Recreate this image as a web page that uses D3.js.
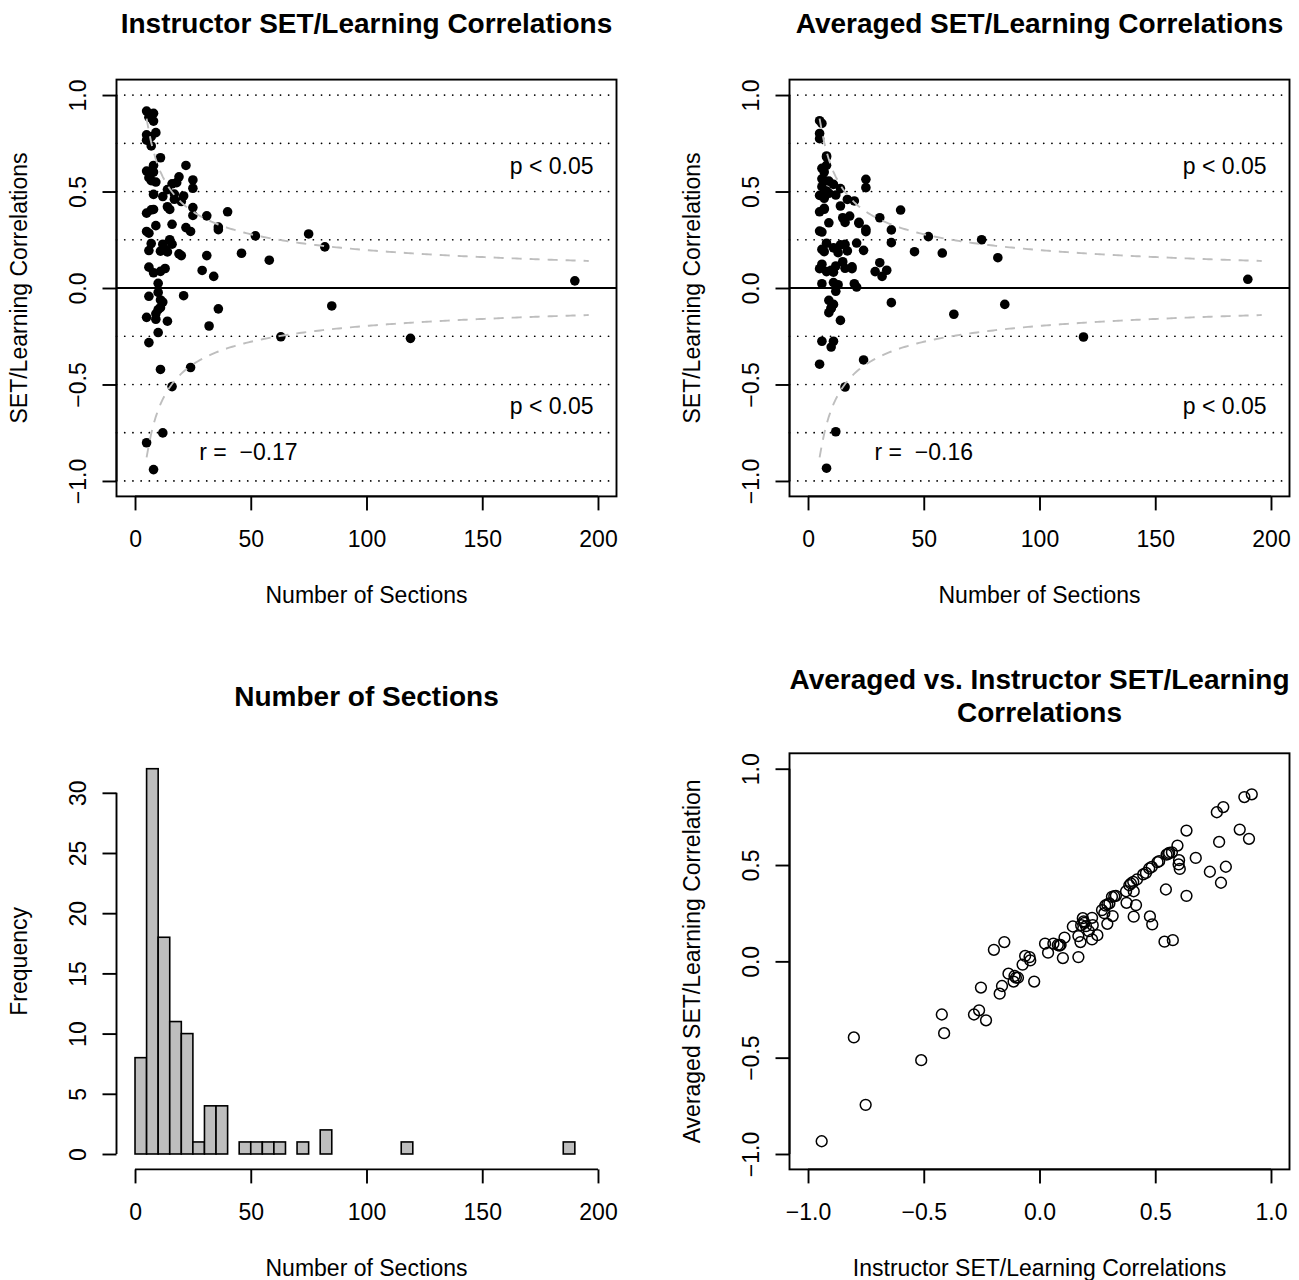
<!DOCTYPE html>
<html><head><meta charset="utf-8">
<script src="https://cdn.jsdelivr.net/npm/d3@7"></script>
<style>
html,body{margin:0;padding:0;background:#fff;}
svg{display:block;font-family:"Liberation Sans",Arial,Helvetica,sans-serif;}
</style></head><body>
<svg id="chart" width="1299" height="1280"></svg>
<script>
// ---- data ----
const nSections = [5,8,6,8,9,5,7,6,5,7,11,8,22,5,6,8,7,19,6,25,7,9,18,16,25,14,17,8,21,12,17,20,14,25,15,8,7,40,5,25,31,16,9,36,22,36,24,5,6,75,52,15,7,16,12,82,13,6,11,14,46,19,20,31,58,6,13,29,11,8,34,190,10,10,21,6,11,12,85,11,36,10,9,5,9,14,32,10,63,119,6,24,11,16,12,5,8];
const instructorR = [0.917,0.905,0.885,0.865,0.805,0.794,0.784,0.776,0.766,0.736,0.675,0.635,0.635,0.606,0.603,0.601,0.596,0.576,0.572,0.560,0.556,0.549,0.546,0.540,0.517,0.510,0.487,0.485,0.477,0.474,0.460,0.448,0.421,0.417,0.407,0.407,0.405,0.395,0.388,0.376,0.374,0.330,0.323,0.316,0.313,0.302,0.293,0.293,0.284,0.280,0.270,0.250,0.230,0.227,0.227,0.213,0.201,0.194,0.191,0.187,0.180,0.177,0.168,0.168,0.144,0.108,0.101,0.091,0.086,0.079,0.060,0.037,0.024,-0.023,-0.040,-0.043,-0.062,-0.073,-0.093,-0.102,-0.108,-0.112,-0.134,-0.152,-0.162,-0.172,-0.197,-0.231,-0.253,-0.261,-0.283,-0.412,-0.422,-0.511,-0.751,-0.802,-0.941];
const averagedR = [0.867,0.636,0.853,0.684,0.491,0.801,0.408,0.620,0.774,0.465,0.537,0.679,0.340,0.480,0.525,0.503,0.601,0.110,0.566,0.563,0.558,0.554,0.373,0.102,0.520,0.515,0.192,0.490,0.233,0.482,0.459,0.451,0.425,0.292,0.364,0.232,0.413,0.404,0.395,0.304,0.364,0.340,0.338,0.235,0.335,0.301,0.195,0.295,0.290,0.250,0.266,0.136,0.188,0.226,0.114,0.157,0.183,0.200,0.208,0.224,0.188,0.100,0.022,0.131,0.181,0.123,0.017,0.085,0.082,0.085,0.092,0.045,0.092,-0.105,0.005,0.022,0.028,-0.017,-0.085,-0.085,-0.076,-0.105,-0.064,0.100,-0.128,-0.168,0.060,-0.306,-0.136,-0.254,-0.276,-0.373,-0.276,-0.513,-0.745,-0.395,-0.934];
const sectionTicks = [0,50,100,150,200];
const corrTicks = [-1,-0.5,0,0.5,1];
const freqTicks = [0,5,10,15,20,25,30];
const refLines = [-1,-0.75,-0.5,-0.25,0.25,0.5,0.75,1];
const binEdges = [0,5,10,15,20,25,30,35,40,45,50,55,60,65,70,75,80,85,90,95,100,105,110,115,120,125,130,135,140,145,150,155,160,165,170,175,180,185,190,195,200];
const titles = ["Instructor SET/Learning Correlations","Averaged SET/Learning Correlations","Number of Sections",["Averaged vs. Instructor SET/Learning","Correlations"]];
const rLabels = ["r =  \u22120.17","r =  \u22120.16"];
const pLabel = "p < 0.05";

// ---- layout ----
const FS = 23, FT = 28;
const colL = [116.5,616.5], colR = [789.5,1289.5];
const rowT = [79.6,496.4], rowB = [753.3,1169.4];
const svg = d3.select("#chart");
const fmtCorr = v => (v < 0 ? "\u2212" : "") + Math.abs(v).toFixed(1);

function tq975(df){
  const z = 1.959964;
  const g1 = (z**3 + z)/4;
  const g2 = (5*z**5 + 16*z**3 + 3*z)/96;
  const g3 = (3*z**7 + 19*z**5 + 17*z**3 - 15*z)/384;
  const g4 = (79*z**9 + 776*z**7 + 1482*z**5 - 1920*z**3 - 945*z)/92160;
  return z + g1/df + g2/df**2 + g3/df**3 + g4/df**4;
}
function rCrit(n){ const t = tq975(n-2); return t/Math.sqrt(n-2+t*t); }

function styleAxis(sel){
  sel.selectAll(".tick line").attr("stroke","#000").attr("stroke-width",1.9);
  sel.selectAll(".tick text").attr("fill","#000").style("font-size",FS+"px").style("font-family",'"Liberation Sans",Arial,sans-serif');
}
function bottomAxis(g, xs, yPos, ticks, fmt){
  const a = g.append("g").attr("transform",`translate(0,${yPos})`)
    .call(d3.axisBottom(xs).tickValues(ticks).tickSize(14).tickSizeOuter(0).tickFormat(fmt));
  a.select(".domain").remove();
  styleAxis(a);
  a.selectAll(".tick text").attr("y",50.6).attr("dy",null);
  a.append("line").attr("x1",xs(ticks[0])).attr("x2",xs(ticks[ticks.length-1]))
    .attr("stroke","#000").attr("stroke-width",1.9);
}
function leftAxis(g, ys, xPos, ticks, fmt){
  const a = g.append("g").attr("transform",`translate(${xPos},0)`)
    .call(d3.axisLeft(ys).tickValues(ticks).tickSize(14).tickSizeOuter(0).tickFormat(fmt));
  a.select(".domain").remove();
  styleAxis(a);
  a.selectAll(".tick text").attr("x",0).attr("y",-30.5).attr("dy",null)
    .attr("transform","rotate(-90)").attr("text-anchor","middle");
  a.append("line").attr("y1",ys(ticks[0])).attr("y2",ys(ticks[ticks.length-1]))
    .attr("stroke","#000").attr("stroke-width",1.9);
}
function axisTitles(g, col, row, xt, yt){
  g.append("text").attr("x",(col[0]+col[1])/2).attr("y",row[1]+106.9)
    .attr("text-anchor","middle").style("font-size",FS+"px").text(xt);
  const cy = (row[0]+row[1])/2, bx = col[0]-89.5;
  g.append("text").attr("transform",`translate(${bx},${cy}) rotate(-90)`)
    .attr("text-anchor","middle").style("font-size",FS+"px").text(yt);
}
function mainTitle(g, col, row, t){
  const cx = (col[0]+col[1])/2;
  if (Array.isArray(t)){
    t.forEach((s,i)=> g.append("text").attr("x",cx).attr("y",row[0]-64+i*33)
      .attr("text-anchor","middle").style("font-size",FT+"px").style("font-weight","bold").text(s));
  } else {
    g.append("text").attr("x",cx).attr("y",row[0]-47).attr("text-anchor","middle")
      .style("font-size",FT+"px").style("font-weight","bold").text(t);
  }
}

// ---- top panels: correlation vs number of sections ----
function funnelPanel(col, yvals, title, rLab, idx){
  const g = svg.append("g");
  const xs = d3.scaleLinear().domain([-8,208]).range(col);
  const ys = d3.scaleLinear().domain([-1.08,1.08]).range([rowT[1],rowT[0]]);
  const pts = nSections.map((n,i)=>({n, r:yvals[i]}));
  g.append("g").selectAll("circle").data(pts).join("circle")
    .attr("cx",d=>xs(d.n)).attr("cy",d=>ys(d.r)).attr("r",4.8).attr("fill","#000");
  g.append("g").selectAll("line").data(refLines).join("line")
    .attr("x1",col[0]).attr("x2",col[1]).attr("y1",d=>ys(d)).attr("y2",d=>ys(d))
    .attr("stroke","#000").attr("stroke-width",1.7).attr("stroke-linecap","round")
    .attr("stroke-dasharray","0.1 8.1");
  g.append("line").attr("x1",col[0]).attr("x2",col[1]).attr("y1",ys(0)).attr("y2",ys(0))
    .attr("stroke","#000").attr("stroke-width",1.9);
  const ns = d3.range(5,197);
  const line = d3.line().x(d=>xs(d[0])).y(d=>ys(d[1]));
  [1,-1].forEach(s=>{
    g.append("path").attr("d",line(ns.map(n=>[n,s*rCrit(n)])))
      .attr("fill","none").attr("stroke","#bebebe").attr("stroke-width",1.9)
      .attr("stroke-dasharray","10 8");
  });
  g.append("rect").attr("x",col[0]).attr("y",rowT[0]).attr("width",col[1]-col[0])
    .attr("height",rowT[1]-rowT[0]).attr("fill","none").attr("stroke","#000").attr("stroke-width",1.9);
  bottomAxis(g, xs, rowT[1], sectionTicks, d3.format("d"));
  leftAxis(g, ys, col[0], corrTicks, fmtCorr);
  axisTitles(g, col, rowT, "Number of Sections", "SET/Learning Correlations");
  mainTitle(g, col, rowT, title);
  g.append("text").attr("x",xs(180)).attr("y",ys(0.63)+8).attr("text-anchor","middle").style("font-size",FS+"px").text(pLabel);
  g.append("text").attr("x",xs(180)).attr("y",ys(-0.61)+8).attr("text-anchor","middle").style("font-size",FS+"px").text(pLabel);
  g.append("text").attr("x",xs(49+idx)).attr("y",ys(-0.85)+8).attr("text-anchor","middle")
    .style("font-size",FS+"px").style("white-space","pre").attr("xml:space","preserve").text(rLab);
}
funnelPanel(colL, instructorR, titles[0], rLabels[0], 0);
funnelPanel(colR, averagedR, titles[1], rLabels[1], 1);

// ---- histogram ----
(function(){
  const g = svg.append("g");
  const xs = d3.scaleLinear().domain([-8,208]).range(colL);
  const ys = d3.scaleLinear().domain([-1.28,33.28]).range([rowB[1],rowB[0]]);
  const bins = binEdges.slice(0,-1).map((lo,i)=>{
    const hi = binEdges[i+1];
    return {x0:lo, x1:hi, count: nSections.filter(v => (v>lo && v<=hi) || (i===0 && v===lo)).length};
  });
  g.append("g").selectAll("rect").data(bins).join("rect")
    .attr("x",d=>xs(d.x0)).attr("width",d=>xs(d.x1)-xs(d.x0))
    .attr("y",d=>ys(d.count)).attr("height",d=>ys(0)-ys(d.count))
    .attr("fill","#bebebe").attr("stroke","#000").attr("stroke-width",1.6);
  bottomAxis(g, xs, rowB[1], sectionTicks, d3.format("d"));
  leftAxis(g, ys, colL[0], freqTicks, d3.format("d"));
  axisTitles(g, colL, rowB, "Number of Sections", "Frequency");
  mainTitle(g, colL, rowB, titles[2]);
})();

// ---- averaged vs instructor scatter ----
(function(){
  const g = svg.append("g");
  const xs = d3.scaleLinear().domain([-1.08,1.08]).range(colR);
  const ys = d3.scaleLinear().domain([-1.08,1.08]).range([rowB[1],rowB[0]]);
  const pts = instructorR.map((r,i)=>({x:r, y:averagedR[i]}));
  g.append("g").selectAll("circle").data(pts).join("circle")
    .attr("cx",d=>xs(d.x)).attr("cy",d=>ys(d.y)).attr("r",5.4)
    .attr("fill","none").attr("stroke","#000").attr("stroke-width",1.5);
  g.append("rect").attr("x",colR[0]).attr("y",rowB[0]).attr("width",colR[1]-colR[0])
    .attr("height",rowB[1]-rowB[0]).attr("fill","none").attr("stroke","#000").attr("stroke-width",1.9);
  bottomAxis(g, xs, rowB[1], corrTicks, fmtCorr);
  leftAxis(g, ys, colR[0], corrTicks, fmtCorr);
  axisTitles(g, colR, rowB, "Instructor SET/Learning Correlations", "Averaged SET/Learning Correlation");
  mainTitle(g, colR, rowB, titles[3]);
})();
</script>
</body></html>
